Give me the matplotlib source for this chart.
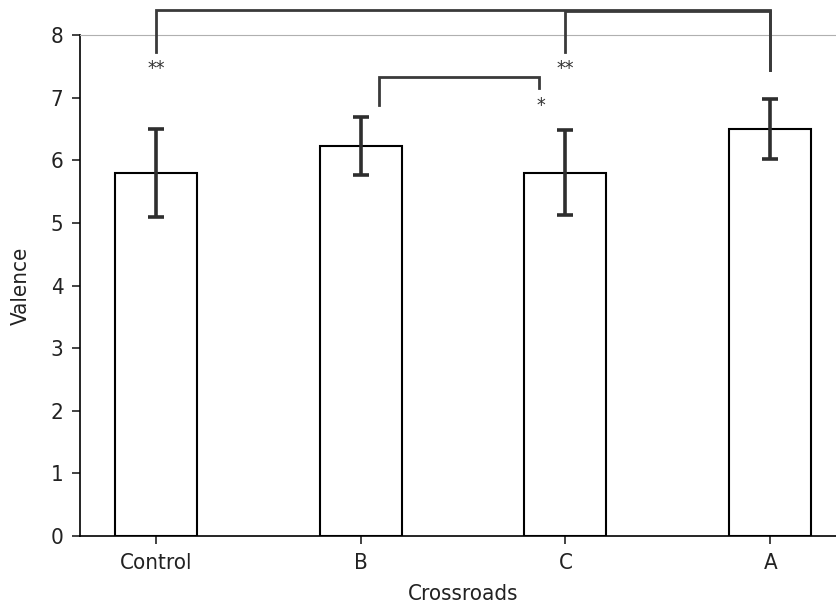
import matplotlib
matplotlib.use("Agg")
import matplotlib.pyplot as plt

categories = ['Control', 'B', 'C', 'A']
means = [5.80, 6.23, 5.80, 6.50]
errors = [0.70, 0.46, 0.68, 0.48]

# significance brackets: (x_left, x_right, y_top, y_left_end, y_right_end)
brackets = [
    (0.00, 3.00, 8.40, 7.73, 7.44),
    (2.00, 3.00, 8.385, 7.73, 7.44),
    (1.09, 1.87, 7.33, 6.88, 7.16),
]
# significance labels: (x, y, text)
sig_labels = [
    (0.00, 7.46, '**'),
    (2.00, 7.46, '**'),
    (1.88, 6.87, '*'),
]

plt.rcParams['font.family'] = ['DejaVu Sans']
plt.rcParams['font.stretch'] = 'condensed'

fig = plt.figure(figsize=(8.36, 6.08), dpi=100)
ax = fig.add_axes([80/836, 72/608, 766/836, 501/608])

x = list(range(len(categories)))
ax.bar(x, means, width=0.4, color='white', edgecolor='black', linewidth=1.5, zorder=2)
ax.errorbar(x, means, yerr=errors, fmt='none', ecolor='#2e2e2e', elinewidth=2.6,
            capsize=5.5, capthick=2.6, zorder=3)

ax.set_xlim(-0.37, 3.37)
ax.set_ylim(0, 8)
ax.set_xticks(x)
ax.set_xticklabels(categories)
ax.set_yticks(range(0, 9))

for xl, xr, yt, yl, yr in brackets:
    ax.plot([xl, xl, xr, xr], [yl, yt, yt, yr], color='#3a3a3a', linewidth=2.0,
            clip_on=False, zorder=4, solid_joinstyle='miter')
for xs, ys, t in sig_labels:
    ax.text(xs, ys, t, ha='center', va='center', fontsize=14, color='#333333')

ax.spines['right'].set_visible(False)
ax.spines['top'].set_color('#b0b0b0')
ax.spines['top'].set_linewidth(0.8)
ax.spines['left'].set_linewidth(1.2)
ax.spines['bottom'].set_linewidth(1.2)
ax.tick_params(axis='both', labelsize=16, length=6, width=1.2, colors='#222222')
ax.tick_params(axis='x', pad=6)
ax.tick_params(axis='y', pad=6)
ax.set_xlabel('Crossroads', fontsize=16, color='#222222', labelpad=8)
ax.set_ylabel('Valence', fontsize=16, color='#222222', labelpad=14)

fig.savefig('out.png', dpi=100)
